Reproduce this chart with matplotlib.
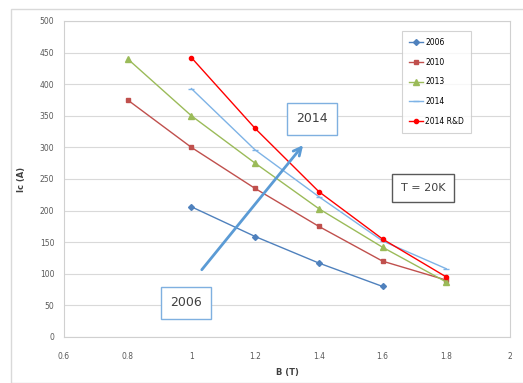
import matplotlib.pyplot as plt
from matplotlib.patches import Rectangle

# field values (T) and critical current (A) per generation
b_2006 = [1.0, 1.2, 1.4, 1.6]
ic_2006 = [206, 159, 117, 80]
b_2010 = [0.8, 1.0, 1.2, 1.4, 1.6, 1.8]
ic_2010 = [375, 300, 235, 175, 120, 90]
b_2013 = [0.8, 1.0, 1.2, 1.4, 1.6, 1.8]
ic_2013 = [440, 350, 275, 203, 142, 87]
b_2014 = [1.0, 1.2, 1.4, 1.6, 1.8]
ic_2014 = [393, 296, 222, 152, 108]
b_2014rd = [1.0, 1.2, 1.4, 1.6, 1.8]
ic_2014rd = [442, 330, 230, 155, 95]

xticks = [0.6, 0.8, 1, 1.2, 1.4, 1.6, 1.8, 2]
xtick_labels = ["0.6", "0.8", "1", "1.2", "1.4", "1.6", "1.8", "2"]

fig = plt.figure(figsize=(5.23, 3.83), dpi=100)
# outer chart frame
fig.patches.append(Rectangle((11/523, 0.0), 1.0, 1 - 9/383, transform=fig.transFigure,
                             fill=False, edgecolor='#d9d9d9', linewidth=1.0))
ax = fig.add_axes([64/523, 1 - 337/383, 446/523, 316/383])

ax.plot(b_2006, ic_2006, color='#4f81bd', marker='D', markersize=3, lw=1.0, label='2006')
ax.plot(b_2010, ic_2010, color='#c0504d', marker='s', markersize=3, lw=1.0, label='2010')
ax.plot(b_2013, ic_2013, color='#9bbb59', marker='^', markersize=4, lw=1.0, label='2013')
ax.plot(b_2014, ic_2014, color='#7eb3e6', marker='_', markersize=5, lw=1.0, label='2014')
ax.plot(b_2014rd, ic_2014rd, color='#ff0000', marker='o', markersize=3, lw=1.0, label='2014 R&D')

ax.set_xlim(0.6, 2)
ax.set_ylim(0, 500)
ax.set_xticks(xticks)
ax.set_xticklabels(xtick_labels)
ax.set_yticks(range(0, 501, 50))
ax.tick_params(labelsize=5.5, colors='#595959', length=0)
ax.tick_params(axis='x', pad=11)
ax.tick_params(axis='y', pad=7)
ax.grid(axis='y', color='#d9d9d9', lw=0.8)
ax.set_axisbelow(True)
for s in ax.spines.values():
    s.set_color('#d0d0d0')
ax.set_xlabel('B (T)', fontsize=6, color='#404040', labelpad=5, fontweight='bold')
ax.set_ylabel('Ic (A)', fontsize=6, color='#404040', labelpad=10, fontweight='bold')

leg = ax.legend(loc='upper left', bbox_to_anchor=(0.75, 0.98), fontsize=5.5,
                frameon=True, fancybox=False, handlelength=1.8, labelspacing=1.4,
                borderpad=0.9, handletextpad=0.3)
leg.get_frame().set_edgecolor('#c8c8c8')
leg.get_frame().set_linewidth(0.8)

ax.annotate('', xy=(1.356, 307), xytext=(1.027, 103),
            arrowprops=dict(arrowstyle='->', color='#5b9bd5', lw=2, mutation_scale=14))
box_blue = dict(boxstyle='square,pad=0.75', fc='white', ec='#7fb0e0', lw=1)
ax.text(1.378, 345, '2014', fontsize=9, ha='center', va='center', color='#404040', bbox=box_blue)
ax.text(0.983, 54, '2006', fontsize=9, ha='center', va='center', color='#404040', bbox=box_blue)
ax.text(1.727, 236, 'T = 20K', fontsize=8, ha='center', va='center', color='#404040',
        bbox=dict(boxstyle='square,pad=0.8', fc='white', ec='#595959', lw=1))

fig.savefig('out.png', dpi=100)
